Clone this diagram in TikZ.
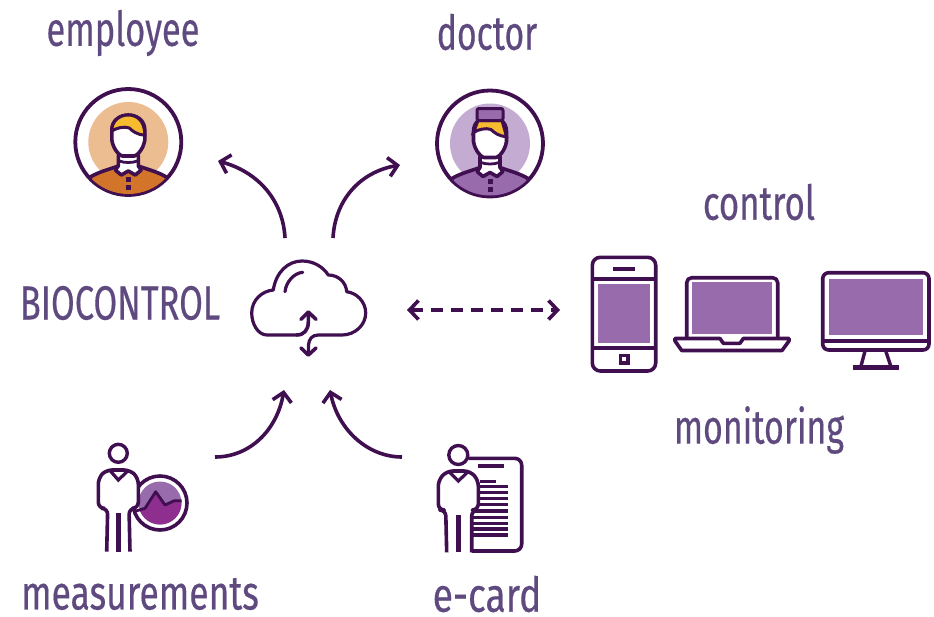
\documentclass[tikz,border=0pt]{standalone}
\usepackage{fontspec}
\usetikzlibrary{arrows.meta}
\newfontfamily\lab[FakeStretch=0.74,FakeBold=0.35]{Fira Sans}
\definecolor{ink}{HTML}{3F0F4F}
\definecolor{txt}{HTML}{5F4A80}
\definecolor{scr}{HTML}{986CAC}
\definecolor{plum}{HTML}{8E2E8E}
\definecolor{hair}{HTML}{F6BB2E}
\definecolor{peach}{HTML}{EDBD92}
\definecolor{amber}{HTML}{D2742A}
\definecolor{lilac}{HTML}{C3ABD1}
\tikzset{
  lbl/.style={font=\lab\fontsize{48}{50}\selectfont,text=txt,inner sep=0pt},
  ln/.style={draw=ink,line width=3.6pt,line join=round},
  link/.style={draw=ink,line width=3.6pt,-{Straight Barb[length=9pt,width=19pt,line width=3.6pt]}},
  duplex/.style={draw=ink,line width=3.6pt,dash pattern=on 12pt off 8pt,
     {Straight Barb[length=9pt,width=19pt,line width=3.6pt]}-{Straight Barb[length=9pt,width=19pt,line width=3.6pt]}},
  disc/.style={circle,draw=ink,line width=3.8pt,minimum size=106pt,inner sep=0pt,fill=white},
}
% #1 centre, #2 halo colour, #3 body colour
\newcommand{\badgeart}[3]{%
\begin{scope}[shift={(#1)}]
  \fill[#2] (0,0) circle[radius=40];
  \begin{scope}
    \clip (0,0) circle[radius=52];
    \path[ln,fill=#3] (-38,35) .. controls (-30,30) and (-18,27) .. (-10,24)
       -- (10,24) .. controls (18,27) and (30,30) .. (38,35)
       -- (38,60) -- (-38,60) -- cycle;
  \end{scope}
  \path[ln,fill=white] (-10,13) -- (-10,24) -- (-13,28) -- (-7,33) -- (0,29) -- (7,33) -- (13,28) -- (10,24) -- (10,13) -- cycle;
  \path[ln,fill=white] (-16.5,-12) -- (-16.5,-2) .. controls (-15,8) and (-8,14) .. (-6,14)
       -- (6,14) .. controls (8,14) and (15,8) .. (16.5,-2) -- (16.5,-12)
       .. controls (16.5,-22) and (8,-27) .. (0,-27)
       .. controls (-8,-27) and (-16.5,-22) .. (-16.5,-12) -- cycle;
  \path[draw=ink,line width=2.8pt] (-9,19) .. controls (-4,21) and (4,21) .. (9,19);
  \fill[ink] (-2.5,35) rectangle (2.5,40);
  \fill[ink] (-2.5,43) rectangle (2.5,48);
\end{scope}}
% #1 centre
\newcommand{\hairpiece}[1]{%
\begin{scope}[shift={(#1)}]
  \path[draw=ink,line width=3pt,fill=hair] (-16.5,-11) .. controls (-16.5,-22) and (-8,-27) .. (0,-27)
     .. controls (9,-27) and (16.5,-21) .. (16.5,-7)
     .. controls (9,-7) and (4,-11) .. (1,-14)
     .. controls (-4,-16) and (-12,-14) .. (-16.5,-11) -- cycle;
\end{scope}}
\newcommand{\capart}[1]{%
\begin{scope}[shift={(#1)}]
  \path[draw=ink,line width=3pt,fill=hair] (-16.5,-11) -- (-12,-23) -- (12,-23) -- (16.5,-7)
     .. controls (9,-7) and (4,-11) .. (1,-14)
     .. controls (-4,-16) and (-12,-14) .. (-16.5,-11) -- cycle;
  \path[ln,line width=3pt,fill=scr,rounded corners=2pt] (-13,-23) -- (-13,-35) -- (13,-35) -- (13,-23) -- cycle;
\end{scope}}
\begin{document}
\begin{tikzpicture}[x=1pt,y=-1pt]
\useasboundingbox (0,0) rectangle (934,616);
% labels
\node[lbl] (tEmployee) at (123,33) {\scalebox{0.97}[1]{employee}};
\node[lbl] (tDoctor) at (487,32) {\scalebox{0.95}[1]{doctor}};
\node[lbl] (tControl) at (759,202) {\scalebox{0.98}[1]{control}};
\node[lbl] (tBio) at (120,303) {\scalebox{0.97}[1]{BIOCONTROL}};
\node[lbl] (tMonitoring) at (759,430) {\scalebox{0.955}[1]{monitoring}};
\node[lbl] (tMeasure) at (140,594) {measurements};
\node[lbl] (tCard) at (487,594) {\scalebox{1.05}[1]{e-card}};
% badges
\node[disc] (employee) at (128.3,142) {};
\node[disc] (doctor) at (490,143.5) {};
\badgeart{128.3,142}{peach}{amber}
\hairpiece{128.3,142}
\badgeart{490,143.5}{lilac}{scr}
\capart{490,143.5}
% cloud
\coordinate (cloud) at (308,310);
\path[ln,line width=3.2pt,line cap=round] (296.7,335) -- (267,335)
  .. controls (258,335) and (251.7,324) .. (251.7,313)
  .. controls (251.7,300) and (262,291) .. (273.3,290)
  .. controls (276,272) and (288,261) .. (302,261)
  .. controls (314,261) and (323,267) .. (328.3,275)
  .. controls (338,275) and (346,282) .. (346.7,291.7)
  .. controls (357,293) and (365.7,302) .. (365.7,313)
  .. controls (365.7,325) and (355,335) .. (342,335)
  -- (318.3,335) .. controls (312,335) and (309,339) .. (308.5,345) -- (308.3,354);
\path[ln,line width=3.2pt,line cap=round] (285,291.7) .. controls (286,282) and (294,273) .. (302.7,272.3);
\path[ln,line width=3.6pt,line cap=round] (296.7,335) .. controls (304,335) and (308.3,330) .. (308.3,322) -- (308.3,313);
\path[ln,line cap=round] (301,319.3) -- (308.3,312) -- (316,319.3);
\path[ln,line cap=round] (301,348) -- (308.3,355) -- (316,348);
% phone
\node[inner sep=0pt,minimum width=63pt,minimum height=113pt] (phone) at (624,314) {};
\path[ln,rounded corners=8pt] (592.3,257.3) rectangle (655.7,371);
\draw[ink,line width=4pt] (592.3,279.3) -- (655.7,279.3) (592.3,347.7) -- (655.7,347.7);
\fill[scr] (597.7,284.3) rectangle (650,343.3);
\draw[ink,line width=3.8pt] (613,269.3) -- (635,269.3);
\draw[ink,line width=3.2pt] (620.5,355.5) rectangle (628,363);
% laptop
\node[inner sep=0pt,minimum width=114pt,minimum height=73pt] (laptop) at (732,314) {};
\path[ln,rounded corners=5pt] (686.7,338) -- (686.7,277.7) -- (777.7,277.7) -- (777.7,338);
\fill[scr] (691.7,282.3) rectangle (771.7,334);
\path[ln,fill=white] (675,338.5) -- (720,338.5) -- (723.3,343.3) -- (740,343.3) -- (743.3,338.5) -- (789,338.5) -- (789,341) -- (782,350.5) -- (681.7,350.5) -- (675,341) -- cycle;
% monitor
\node[inner sep=0pt,minimum width=106pt,minimum height=95pt] (monitor) at (876,320) {};
\path[ln,rounded corners=6pt] (822.7,272.7) rectangle (929,350);
\fill[scr] (829,279) rectangle (923.3,335);
\draw[ink,line width=4pt] (822.7,341) -- (929,341);
\draw[ink,line width=3.4pt] (865,351) -- (861,366) (885.7,351) -- (890.7,366);
\draw[ink,line width=5pt] (852.7,367) -- (899.3,367);
% measurements icon
\coordinate (mIcon) at (118,497);
\begin{scope}
  \clip (160,503) circle[radius=21.5];
  \fill[scr] (130,470) rectangle (190,530);
  \fill[plum] (130,512) -- (145,508.3) -- (155.7,491.7) -- (165,505) -- (174.3,500.7) -- (190,500.7) -- (190,530) -- (130,530) -- cycle;
\end{scope}
\path[ln,line width=2.8pt] (136,511) -- (145,508.3) -- (155.7,491.7) -- (165,505) -- (174.3,500.7) -- (181.7,500.7);
\draw[ink,line width=3.6pt] (160,503) circle[radius=27];
\path[ln,fill=white,rounded corners=6pt] (106.7,551.7) -- (107.7,508.3) -- (98.3,508.3) -- (98.3,478) -- (106,470) -- (130,470) -- (138.3,478) -- (138.3,508.3) -- (129,508.3) -- (130,551.7);
\draw[ink,line width=3.2pt] (110,470.5) -- (118.3,480) -- (128.3,470.5);
\draw[ink,line width=4.5pt] (118.3,513) -- (118.3,551.7);
\draw[ink,line width=3.4pt,fill=white] (118.3,453.3) circle[radius=9];
% e-card icon
\coordinate (cIcon) at (470,497);
\path[ln,rounded corners=7pt] (468.3,458.3) -- (521.7,458.3) -- (521.7,551) -- (471.7,551);
\draw[ink,line width=3.4pt] (478.3,466) -- (504,466) (480,481.7) -- (495.7,481.7);
\foreach \yy in {486.7,492.3,498.3,504.3} \draw[ink,line width=3.4pt] (478,\yy) -- (508.3,\yy);
\foreach \yy in {511,517.7,523.3,529,535} \draw[ink,line width=3.4pt] (471.7,\yy) -- (508.3,\yy);
\draw[ink,line width=3.4pt,fill=white] (458.3,455) circle[radius=9.5];
\path[ln,fill=white,rounded corners=6pt] (446.7,552.3) -- (445.7,510) -- (438.3,510) -- (438.3,480) -- (447,471) -- (470,471) -- (478.3,480) -- (478.3,510) -- (471.7,510) -- (471.7,552.3);
\draw[ink,line width=3.2pt] (449,471.5) -- (458.3,481) -- (468.3,471.5);
\draw[ink,line width=4.5pt] (458.3,515) -- (458.3,552.3);
% connectors
\coordinate (eFrom) at (285,238);
\coordinate (eTo) at (218,161);
\coordinate (dFrom) at (333,238);
\coordinate (dTo) at (400,165);
\coordinate (mFrom) at (215,457);
\coordinate (mTo) at (284,390);
\coordinate (cFrom) at (402,457);
\coordinate (cTo) at (330,390);
\coordinate (dLeft) at (407,310);
\coordinate (dRight) at (560,310);
\draw[link] (eFrom) .. controls (283,200) and (258,172) .. (eTo);
\draw[link] (dFrom) .. controls (335,200) and (360,172) .. (dTo);
\draw[link] (mFrom) .. controls (250,457) and (277,430) .. (mTo);
\draw[link] (cFrom) .. controls (368,457) and (338,430) .. (cTo);
\draw[duplex] (dLeft) -- (dRight);
\end{tikzpicture}
\end{document}
